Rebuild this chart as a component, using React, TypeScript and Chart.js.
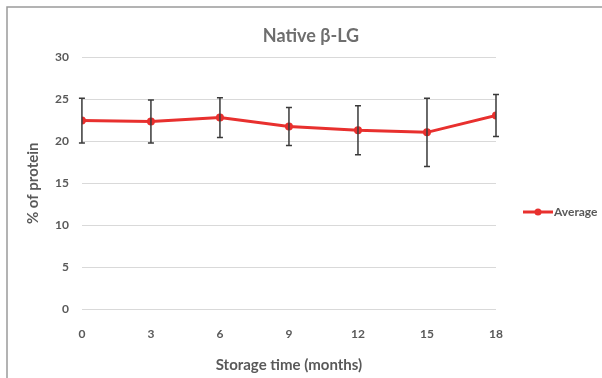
import React, { useEffect, useRef } from "react";
import { Chart, registerables } from "chart.js";

Chart.register(...registerables);

const months = [0, 3, 6, 9, 12, 15, 18];
const averageValues = [22.45, 22.35, 22.8, 21.75, 21.3, 21.05, 23.05];
const errorValues = [2.65, 2.55, 2.35, 2.25, 2.9, 4.05, 2.5];
const xTicks = [0, 3, 6, 9, 12, 15, 18];
const yTicks = [0, 5, 10, 15, 20, 25, 30];

const FONT = "Lato, 'Open Sans', sans-serif";

const decorPlugin = {
  id: "decor",
  afterDatasetsDraw(chart: any) {
    const { ctx } = chart;
    const xs = chart.scales.x;
    const ys = chart.scales.y;
    ctx.save();
    ctx.strokeStyle = "#3a3a3a";
    ctx.lineWidth = 1.5;
    months.forEach((m, i) => {
      const x = xs.getPixelForValue(m);
      const yTop = ys.getPixelForValue(averageValues[i] + errorValues[i]);
      const yBot = ys.getPixelForValue(averageValues[i] - errorValues[i]);
      ctx.beginPath();
      ctx.moveTo(x, yTop);
      ctx.lineTo(x, yBot);
      ctx.moveTo(x - 3, yTop);
      ctx.lineTo(x + 3, yTop);
      ctx.moveTo(x - 3, yBot);
      ctx.lineTo(x + 3, yBot);
      ctx.stroke();
    });
    ctx.restore();
  },
  afterDraw(chart: any) {
    const { ctx } = chart;
    ctx.save();
    // outer border
    ctx.strokeStyle = "#9a9a9a";
    ctx.lineWidth = 1.5;
    ctx.strokeRect(7, 7, 700, 500);
    // title
    ctx.fillStyle = "#6e6e6e";
    ctx.font = `bold 18px ${FONT}`;
    ctx.textAlign = "center";
    ctx.textBaseline = "middle";
    ctx.fillText("Native β-LG", 311, 36);
    // legend
    const ly = 212;
    ctx.strokeStyle = "#e8302e";
    ctx.lineWidth = 3;
    ctx.beginPath();
    ctx.moveTo(523, ly);
    ctx.lineTo(553, ly);
    ctx.stroke();
    ctx.fillStyle = "#e8302e";
    ctx.beginPath();
    ctx.arc(538, ly, 3.5, 0, Math.PI * 2);
    ctx.fill();
    ctx.fillStyle = "#595959";
    ctx.font = `bold 12px ${FONT}`;
    ctx.textAlign = "left";
    ctx.fillText("Average", 554, ly);
    ctx.restore();
  },
};

export default function App() {
  const ref = useRef<HTMLCanvasElement>(null);
  useEffect(() => {
    if (!ref.current) return;
    const chart = new Chart(ref.current, {
      type: "line",
      data: {
        datasets: [
          {
            label: "Average",
            data: months.map((m, i) => ({ x: m, y: averageValues[i] })),
            borderColor: "#e8302e",
            backgroundColor: "#e8302e",
            borderWidth: 3,
            pointRadius: 4,
            pointBackgroundColor: "#e8302e",
            pointBorderWidth: 0,
            tension: 0,
          },
        ],
      },
      plugins: [decorPlugin],
      options: {
        animation: false,
        responsive: false,
        devicePixelRatio: 1,
        layout: { padding: { left: 24, right: 106, top: 57, bottom: 4 } },
        plugins: {
          legend: { display: false },
          title: { display: false },
          tooltip: { enabled: false },
        },
        scales: {
          x: {
            type: "linear",
            min: 0,
            max: 18,
            afterBuildTicks: (axis: any) => {
              axis.ticks = xTicks.map((v) => ({ value: v }));
            },
            grid: { display: false, drawTicks: false },
            border: { display: false },
            ticks: {
              color: "#595959",
              font: { family: FONT, size: 12, weight: "bold" },
              padding: 17,
            },
            title: {
              display: true,
              text: "Storage time (months)",
              color: "#595959",
              font: { family: FONT, size: 15, weight: "bold" },
              padding: { top: -2, bottom: 0 },
            },
          },
          y: {
            min: 0,
            max: 30,
            afterBuildTicks: (axis: any) => {
              axis.ticks = yTicks.map((v) => ({ value: v }));
            },
            grid: { color: "#d9d9d9", lineWidth: 1, drawTicks: false },
            border: { display: false },
            ticks: {
              color: "#595959",
              font: { family: FONT, size: 12, weight: "bold" },
              padding: 13,
            },
            title: {
              display: true,
              text: "% of protein",
              color: "#595959",
              font: { family: FONT, size: 15, weight: "bold" },
              padding: { top: 0, bottom: 0 },
            },
          },
        },
      },
    });
    return () => chart.destroy();
  }, []);
  return (
    <div style={{ position: "absolute", left: 0, top: 0, width: 602, height: 378, background: "#fff" }}>
      <canvas ref={ref} width={602} height={378} style={{ display: "block" }} />
    </div>
  );
}
